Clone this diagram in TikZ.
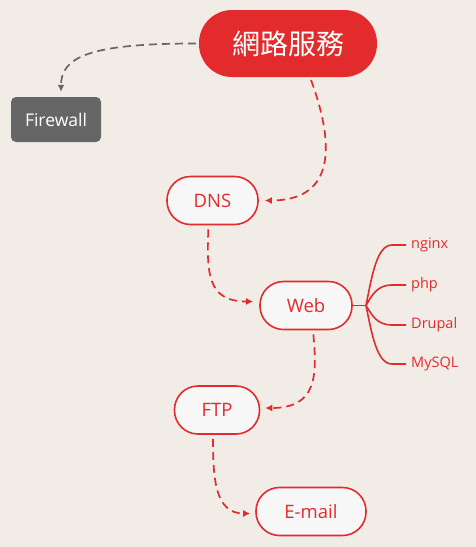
\documentclass[tikz,border=0pt]{standalone}
\usepackage{fontspec}
\setmainfont{Open Sans}
\newfontfamily\cjkfont{Noto Sans CJK TC}
\usepackage{tikz}
\usetikzlibrary{arrows.meta}
\tikzset{>={Latex[width=7pt,length=7pt]}}
\definecolor{bgcol}{HTML}{F1ECE6}
\definecolor{xred}{HTML}{E32B2E}
\definecolor{xgray}{HTML}{666666}
\definecolor{xfill}{HTML}{F7F7F7}
\tikzset{
  topic/.style={draw=xred, fill=xfill, line width=1.6pt, rounded corners=23.5pt,
    minimum height=48pt, text=xred, font=\fontsize{18.5}{20}\selectfont},
  link/.style={->, dash pattern=on 8pt off 5pt, line width=1.7pt, color=xred},
  branch/.style={line width=1.6pt, color=xred},
  leaf/.style={text=xred, font=\fontsize{14.5}{16}\selectfont, anchor=west,
    inner sep=0pt, text height=10pt, text depth=3pt},
}

\begin{document}
\begin{tikzpicture}[x=1pt,y=-1pt]

  \fill[bgcol] (0,0) rectangle (476,547);
  \useasboundingbox (0,0) rectangle (476,547);

  \node[fill=xred, rounded corners=33pt, minimum width=178pt, minimum height=67pt,
    text=white, font=\cjkfont\fontsize{28}{30}\selectfont] (root) at (288,43.5) {網路服務};
  \node[fill=xgray, rounded corners=5pt, minimum width=90pt, minimum height=45pt,
    text=white, font=\fontsize{17.5}{19}\selectfont] (fw) at (56,119.5) {Firewall};

  \node[topic, minimum width=91pt] (dns) at (212.5,200.5) {DNS};
  \node[topic, minimum width=92pt] (web) at (306,305.5) {Web};
  \node[topic, minimum width=85pt] (ftp) at (217,410) {FTP};
  \node[topic, minimum width=110pt] (mail) at (311,511.5) {E-mail};

  \node[leaf] (nginx) at (411,245) {nginx};
  \node[leaf] (php) at (411,285) {php};
  \node[leaf] (drupal) at (411,325) {Drupal};
  \node[leaf] (mysql) at (411,364) {MySQL};

  %% web -> its four leaves
  \coordinate (fork) at (366,305.5);
  \draw[branch] (web.east) -- (fork);
  \foreach \nm/\yy in {nginx/245, php/285, drupal/325, mysql/364}
    \draw[branch] (fork) .. controls (372,{(305.5+\yy)/2}) and (377,\yy) .. (392,\yy)
      -- ([xshift=-5pt]\nm.west);

  %% root -> firewall (grey)
  \draw[link, color=xgray, shorten <=3pt] (root.west)
    .. controls +(-109,0) and +(0,-35) .. ([xshift=5pt,yshift=5pt]fw.north);
  %% root -> dns
  \draw[link, shorten <=3pt] ([xshift=22pt]root.south)
    .. controls +(22,60) and +(75,0) .. ([xshift=6pt]dns.east);
  %% dns -> web
  \draw[link, shorten <=4pt] ([xshift=-4pt]dns.south)
    .. controls +(-2,50) and +(-45,0) .. ([xshift=-6pt,yshift=4pt]web.west);
  %% web -> ftp
  \draw[link, shorten <=4pt] ([xshift=7pt]web.south)
    .. controls +(4,45) and +(52,0) .. ([xshift=5pt,yshift=2pt]ftp.east);
  %% ftp -> e-mail
  \draw[link, shorten <=4pt] ([xshift=-4pt]ftp.south)
    .. controls +(0,45) and +(-35,0) .. ([xshift=-5pt,yshift=-2pt]mail.west);

\end{tikzpicture}
\end{document}
